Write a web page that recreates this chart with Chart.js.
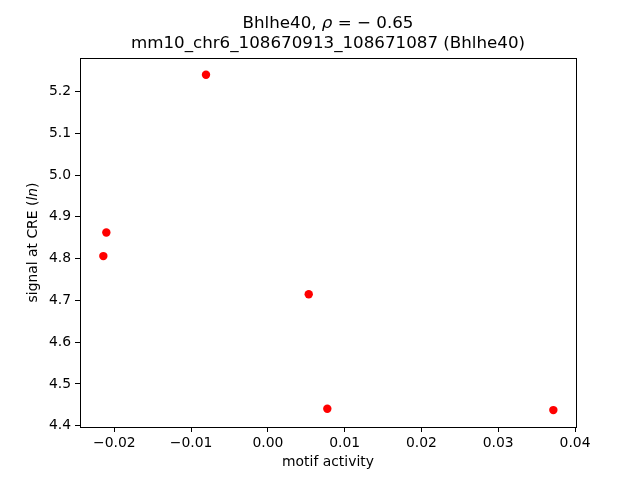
<!DOCTYPE html>
<html>
<head>
<meta charset="utf-8">
<script src="https://cdn.jsdelivr.net/npm/chart.js@4"></script>
<style>
  html, body { margin: 0; padding: 0; background: #fff; }
  #wrap { width: 640px; height: 480px; }
</style>
</head>
<body>
<div id="wrap"><canvas id="scatter" width="640" height="480"></canvas></div>
<script>
/* data */
var motifActivity = [-0.00806, -0.02104, -0.02143, 0.00532, 0.00774, 0.03718];
var creSignal = [5.240, 4.8626, 4.806, 4.7145, 4.4406, 4.4375];
var xTicks = [-0.02, -0.01, 0.00, 0.01, 0.02, 0.03, 0.04];
var yTicks = [4.4, 4.5, 4.6, 4.7, 4.8, 4.9, 5.0, 5.1, 5.2];
var titleLine2 = 'mm10_chr6_108670913_108671087 (Bhlhe40)';

var points = motifActivity.map(function (x, i) {
    return { x: x, y: creSignal[i] };
});

var font = 'DejaVu Sans';

// draw a row of [text, italic] pieces centred on cx
function mixedText(c, parts, cx, cy, size) {
    var widths = parts.map(function (p) {
        c.font = (p[1] ? 'italic ' : '') + size + 'px "' + font + '"';
        return c.measureText(p[0]).width;
    });
    var total = widths.reduce(function (a, b) { return a + b; }, 0);
    var x = cx - total / 2;
    c.textAlign = 'left';
    parts.forEach(function (p, i) {
        c.font = (p[1] ? 'italic ' : '') + size + 'px "' + font + '"';
        c.fillText(p[0], x, cy);
        x += widths[i];
    });
}

/* box around the plot + titles like matplotlib */
var frame = {
    id: 'frame',
    afterDraw: function (chart) {
        var c = chart.ctx, a = chart.chartArea;
        c.save();
        c.strokeStyle = '#000';
        c.lineWidth = 1;
        c.strokeRect(Math.round(a.left) + 0.5, Math.round(a.top) + 0.5,
            Math.round(a.right - a.left), Math.round(a.bottom - a.top));

        var cx = (a.left + a.right) / 2;
        c.fillStyle = '#000';
        c.textBaseline = 'middle';
        mixedText(c, [['Bhlhe40, ', false], ['\u03c1', true], [' = \u2212 0.65', false]], cx, 24, 16.7);
        c.textAlign = 'center';
        c.font = '16.7px "' + font + '"';
        c.fillText(titleLine2, cx, 44);

        c.font = '13.9px "' + font + '"';
        c.fillText('motif activity', cx, 462);

        // y label with italic ln
        var cy = (a.top + a.bottom) / 2;
        c.translate(33, cy);
        c.rotate(-Math.PI / 2);
        mixedText(c, [['signal at CRE (', false], ['ln', true], [')', false]], 0, 0, 13.9);
        c.restore();
    }
};

function fmt(v, d) {
    var s = Math.abs(v).toFixed(d);
    return (v < -1e-9 ? '\u2212' : '') + s;
}

var ctx = document.getElementById('scatter').getContext('2d');
var myChart = new Chart(ctx, {
    type: 'scatter',
    data: {
        datasets: [{
            label: 'CRE',
            data: points,
            backgroundColor: 'red',
            borderColor: 'red',
            pointRadius: 4.2,
            pointHoverRadius: 4.2,
            borderWidth: 0
        }]
    },
    options: {
        responsive: false,
        animation: false,
        layout: { padding: { top: 58, right: 64, left: 0, bottom: 0 } },
        plugins: {
            legend: { display: false },
            title: { display: false },
            tooltip: { enabled: false }
        },
        scales: {
            x: {
                type: 'linear',
                min: -0.02447,
                max: 0.04013,
                afterBuildTicks: function (s) {
                    s.ticks = xTicks.map(function (v) { return { value: v }; });
                },
                afterFit: function (s) { s.height = 53; },
                grid: { drawOnChartArea: false, drawTicks: true, tickLength: 5, color: '#000' },
                border: { display: false },
                ticks: {
                    color: '#000',
                    padding: 3,
                    maxRotation: 0,
                    font: { family: font, size: 13.9 },
                    callback: function (v) { return fmt(v, 2); }
                }
            },
            y: {
                type: 'linear',
                min: 4.397,
                max: 5.28,
                afterBuildTicks: function (s) {
                    s.ticks = yTicks.map(function (v) { return { value: v }; });
                },
                afterFit: function (s) { s.width = 80; },
                grid: { drawOnChartArea: false, drawTicks: true, tickLength: 5, color: '#000' },
                border: { display: false },
                ticks: {
                    color: '#000',
                    padding: 4,
                    font: { family: font, size: 13.9 },
                    callback: function (v) { return v.toFixed(1); }
                }
            }
        }
    },
    plugins: [frame]
});
</script>
</body>
</html>
